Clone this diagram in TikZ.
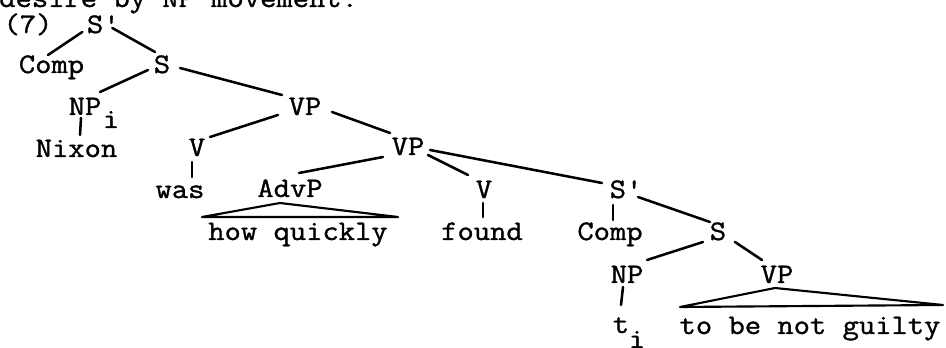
\documentclass[tikz,border=0pt]{standalone}
\usepackage{fontspec}
\setmonofont{Latin Modern Mono}[FakeStretch=1.12,FakeBold=1.2]
\usetikzlibrary{calc}
\begin{document}
\begin{tikzpicture}[x=0.75pt,y=-0.75pt,
  lbl/.style={anchor=base,inner sep=0pt,
    font=\ttfamily\fontsize{21.2pt}{24pt}\selectfont},
  branch/.style={line width=1.9pt,line cap=round},
  roof/.style={line width=1.6pt,line join=round}]
\useasboundingbox (0,0) rectangle (946,348);
\clip (0,0) rectangle (946,348);

% running text above the example, cut by the frame
\node[lbl,anchor=base west] (prev) at (-1,7) {desire by NP movement.};
\node[lbl] (num) at (28,33) {(7)};

% matrix clause
\node[lbl] (sbar1) at (103.3,33) {S'};
\node[lbl] (comp1) at (51.5,73) {Comp};
\node[lbl] (s1)    at (162,73) {S};
\node[lbl] (np1)   at (85,115) {NP};
\node[lbl] (np1i)  at (111,128) {i};
\node[lbl] (nixon) at (76.5,157) {Nixon};
\node[lbl] (vp1)   at (305,115) {VP};
\node[lbl] (v1)    at (197,156) {V};
\node[lbl] (was)   at (180,198) {was};
\node[lbl] (vp2)   at (408,155) {VP};
\node[lbl] (advp)  at (290,197) {AdvP};
\node[lbl] (howq)  at (298,240) {how quickly};
\node[lbl] (v2)    at (484,198) {V};
\node[lbl] (found) at (482,240) {found};

% embedded clause
\node[lbl] (sbar2) at (626,198) {S'};
\node[lbl] (comp2) at (610,240) {Comp};
\node[lbl] (s2)    at (718,240) {S};
\node[lbl] (np2)   at (627,283) {NP};
\node[lbl] (trace) at (621,333) {t};
\node[lbl] (tri)   at (637,348) {i};
\node[lbl] (vp3)   at (777,283) {VP};
\node[lbl] (guilty) at (810,334) {to be not guilty};

% branches
\draw[branch] ($(sbar1.base)+(-21,-1)$) -- ($(comp1.base)+(-3.5,-18)$);
\draw[branch] ($(sbar1.base)+(9,-5)$)   -- ($(s1.base)+(-7,-21)$);
\draw[branch] ($(s1.base)+(-14,-3)$)    -- ($(np1.base)+(15,-23)$);
\draw[branch] ($(s1.base)+(18,-5)$)     -- ($(vp1.base)+(-23,-20)$);
\draw[branch] ($(np1.base)+(-4,3)$)     -- ($(nixon.base)+(3.5,-22)$);
\draw[branch] ($(vp1.base)+(-27,0)$)    -- ($(v1.base)+(13,-19)$);
\draw[branch] ($(vp1.base)+(27,-3)$)    -- ($(vp2.base)+(-18,-22)$);
\draw[branch] ($(v1.base)+(-5,6)$)      -- ($(was.base)+(12,-21)$);
\draw[branch] ($(vp2.base)+(-25,2)$)    -- ($(advp.base)+(9,-24)$);
\draw[branch] ($(vp2.base)+(20,0)$)     -- ($(v2.base)+(-16,-23)$);
\draw[branch] ($(vp2.base)+(22,-5)$)    -- ($(sbar2.base)+(-24,-15)$);
\draw[branch] ($(v2.base)+(-1,5)$)      -- ($(found.base)+(1,-23)$);
\draw[branch] ($(sbar2.base)+(-13,7)$)  -- ($(comp2.base)+(3,-20)$);
\draw[branch] ($(sbar2.base)+(12,-1)$)  -- ($(s2.base)+(-8,-18)$);
\draw[branch] ($(s2.base)+(-15,2)$)     -- ($(np2.base)+(20,-23)$);
\draw[branch] ($(s2.base)+(17,2)$)      -- ($(vp3.base)+(-15,-23)$);
\draw[branch] ($(np2.base)+(-4,4)$)     -- ($(trace.base)+(0,-28)$);

% roofs over unanalysed phrases
\draw[roof] ($(advp.base)+(-10,6)$) -- ($(howq.base)+(-96,-23)$)
  -- ($(howq.base)+(100,-23)$) -- cycle;
\draw[roof] ($(vp3.base)+(-2,5)$) -- ($(guilty.base)+(-130,-27)$)
  -- ($(guilty.base)+(133,-29)$) -- cycle;
\end{tikzpicture}
\end{document}
